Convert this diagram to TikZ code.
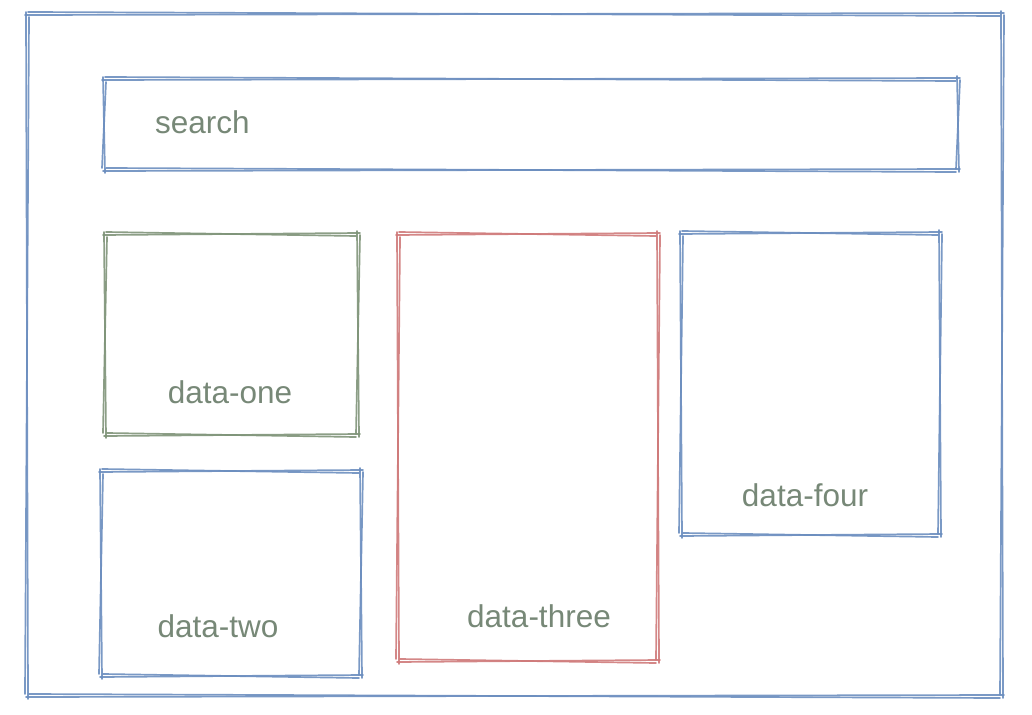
\documentclass[tikz,border=0pt]{standalone}
\usepackage{fontspec}
\setmainfont{Liberation Sans}
\definecolor{skblue}{HTML}{6C8EBF}
\definecolor{skgreen}{HTML}{7F9479}
\definecolor{skred}{HTML}{CF7A7A}
\definecolor{sktext}{HTML}{778877}
\newcommand\skbox[5]{%
  \draw[sk,#1] (#2-2,#3+1) -- (#4+2,#3-1);
  \draw[sk,#1] (#2+1,#3-2) -- (#4-2,#3+2);
  \draw[sk,#1] (#4-1,#3-3) -- (#4+1,#5+2);
  \draw[sk,#1] (#4+2,#3+1) -- (#4-2,#5-1);
  \draw[sk,#1] (#4+2,#5-1) -- (#2-1,#5+1);
  \draw[sk,#1] (#4-2,#5+2) -- (#2+2,#5-2);
  \draw[sk,#1] (#2+1,#5+3) -- (#2-1,#3-2);
  \draw[sk,#1] (#2-2,#5-2) -- (#2+2,#3+3);
}
\begin{document}
\begin{tikzpicture}[x=1pt,y=-1pt,
  sk/.style={line width=1.7pt,line cap=round,opacity=0.9},
  lbl/.style={text=sktext,font=\fontsize{31.5}{36}\selectfont,inner sep=0pt}]
\useasboundingbox (0,0) rectangle (1032,714);
\skbox{skblue}{27}{14}{1002}{696}
\skbox{skblue}{104}{79}{958}{170}
\skbox{skgreen}{105}{234}{358}{435}
\skbox{skblue}{101}{471}{361}{676}
\skbox{skred}{398}{234}{658}{661}
\skbox{skblue}{681}{233}{940}{535}
\node[lbl,anchor=west] (search) at (155,122) {search};
\node[lbl] (one) at (230,392) {data-one};
\node[lbl] (two) at (218,626) {data-two};
\node[lbl] (three) at (539,616) {data-three};
\node[lbl] (four) at (805,495) {data-four};
\end{tikzpicture}
\end{document}
